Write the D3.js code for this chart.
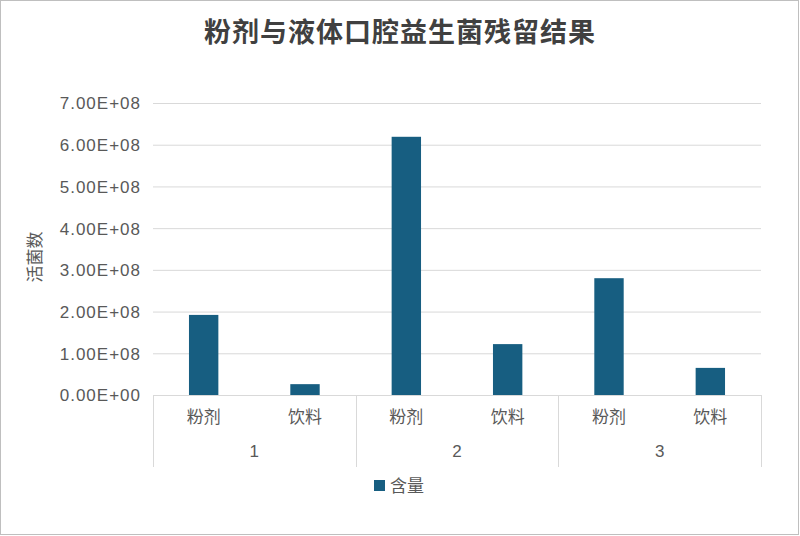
<!DOCTYPE html>
<html><head><meta charset="utf-8">
<script src="https://cdn.jsdelivr.net/npm/d3@7"></script>
<style>
body{margin:0;background:#fff;}
svg text{font-family:"Liberation Sans","Noto Sans CJK SC",sans-serif;}
.cjk{font-family:"Noto Sans CJK SC",sans-serif !important;}
</style></head>
<body>
<svg id="c" width="800" height="536"></svg>
<script>
const title = "粉剂与液体口腔益生菌残留结果";
const groups = ["1","2","3"];
const subCats = ["粉剂","饮料"];
const values = [1.92e8, 0.26e8, 6.19e8, 1.22e8, 2.80e8, 0.65e8];
const yTicks = [0,1e8,2e8,3e8,4e8,5e8,6e8,7e8];
const seriesName = "含量";
const yLabel = "活菌数";

const svg = d3.select("#c");
svg.append("rect").attr("x",0.5).attr("y",0.5).attr("width",798).attr("height",534)
  .attr("fill","#fff").attr("stroke","#bfbfbf");

const L=153,R=761,T=103,B=395;
const cats = [];
groups.forEach(g=>subCats.forEach(s=>cats.push(g+"|"+s)));
const x = d3.scaleBand().domain(cats).range([L,R]).paddingInner(0.71).paddingOuter(0.355);
const y = d3.scaleLinear().domain([0,7e8]).range([B,T]);

const fmt = v => { if(v===0) return "0.00E+00"; const e=Math.floor(Math.log10(v)); return (v/Math.pow(10,e)).toFixed(2)+"E+"+String(e).padStart(2,"0"); };

// grid
svg.append("g").selectAll("line").data(yTicks.slice(1)).join("line")
  .attr("x1",L).attr("x2",R).attr("y1",d=>y(d)+0.5).attr("y2",d=>y(d)+0.5)
  .attr("stroke","#d9d9d9").attr("stroke-width",1);

// y axis labels
const yAxis = d3.axisLeft(y).tickValues(yTicks).tickFormat(fmt).tickSize(0).tickPadding(12);
const ya = svg.append("g").attr("transform",`translate(${L},0)`).call(yAxis);
ya.select(".domain").remove();
ya.selectAll("text").attr("fill","#595959").style("font-size","17px").style("letter-spacing","1px")
  .style("font-family","'Liberation Sans',sans-serif").attr("dy","0.35em");

// bars
svg.append("g").selectAll("rect").data(values).join("rect")
  .attr("x",(d,i)=>x(cats[i])).attr("width",x.bandwidth())
  .attr("y",d=>y(d)).attr("height",d=>B-y(d)).attr("fill","#175e81");

// x axis baseline
svg.append("line").attr("x1",L).attr("x2",R).attr("y1",B+0.5).attr("y2",B+0.5).attr("stroke","#d9d9d9");
// group dividers
const gw = (R-L)/groups.length;
const dividers = d3.range(groups.length+1).map(i=>L+i*gw);
svg.append("g").selectAll("line").data(dividers).join("line")
  .attr("x1",d=>Math.round(d)+0.5).attr("x2",d=>Math.round(d)+0.5).attr("y1",B).attr("y2",467)
  .attr("stroke","#d9d9d9");

// sub labels
svg.append("g").selectAll("text").data(cats).join("text").attr("class","cjk")
  .attr("x",d=>x(d)+x.bandwidth()/2).attr("y",423).attr("text-anchor","middle")
  .attr("fill","#595959").style("font-size","17px").text(d=>d.split("|")[1]);
// group labels
svg.append("g").selectAll("text").data(groups).join("text")
  .attr("x",(d,i)=>L+gw*(i+0.5)).attr("y",457).attr("text-anchor","middle")
  .attr("fill","#595959").style("font-size","17px").text(d=>d);

// title
svg.append("text").attr("class","cjk").attr("x",400).attr("y",42).attr("text-anchor","middle")
  .attr("fill","#404040").style("font-size","27px").style("font-weight","bold").style("letter-spacing","1px").text(title);

// y label
svg.append("text").attr("class","cjk").attr("transform","translate(41,257) rotate(-90)").attr("text-anchor","middle")
  .attr("fill","#595959").style("font-size","17px").text(yLabel);

// legend
svg.append("rect").attr("x",374).attr("y",480).attr("width",11).attr("height",11).attr("fill","#175e81");
svg.append("text").attr("class","cjk").attr("x",390).attr("y",492).attr("fill","#595959").style("font-size","17px").text(seriesName);
</script>
</body></html>
